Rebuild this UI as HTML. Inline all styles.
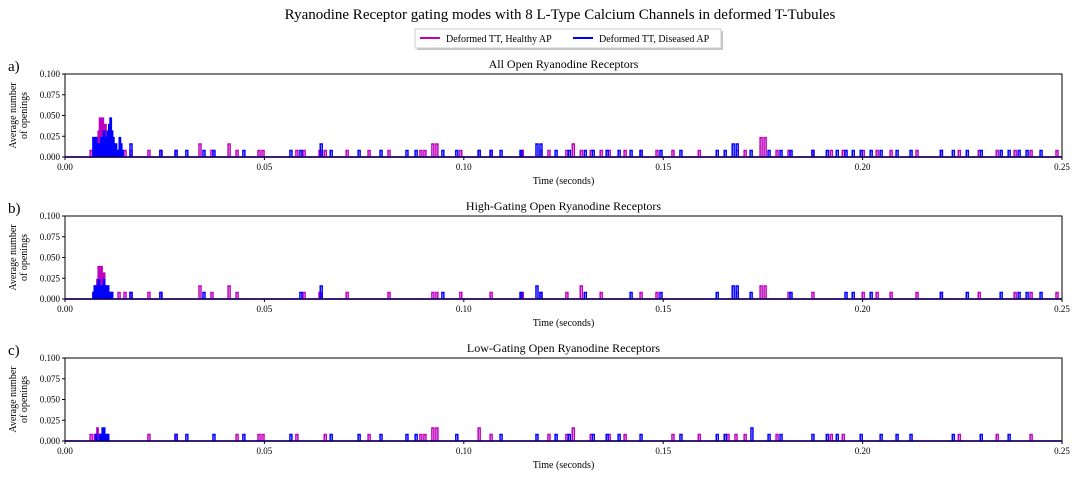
<!DOCTYPE html>
<html><head><meta charset="utf-8"><style>
body{margin:0;background:#fff;}
svg{display:block;font-family:"Liberation Serif",serif;}
</style></head><body>
<svg id="chart" width="1079" height="480" viewBox="0 0 1079 480">
<text x="560" y="19" text-anchor="middle" font-size="15">Ryanodine Receptor gating modes with 8 L-Type Calcium Channels in deformed T-Tubules</text>
<g>
<rect x="417" y="31" width="306" height="19" fill="#888" opacity="0.5"/>
<rect x="415" y="29" width="306" height="19" fill="#fff" stroke="#ccc"/>
<line x1="420" y1="38" x2="440" y2="38" stroke="#bf00bf" stroke-width="2"/>
<text x="446" y="42" font-size="10">Deformed TT, Healthy AP</text>
<line x1="573" y1="38" x2="593" y2="38" stroke="#0000ff" stroke-width="2"/>
<text x="599" y="42" font-size="10">Deformed TT, Diseased AP</text>
</g>
<g id="panels"></g>
</svg>
<script>
// times in ms, levels in units of openings (1 unit ≈ 0.0078)
const panelTitles = ["All Open Ryanodine Receptors","High-Gating Open Ryanodine Receptors","Low-Gating Open Ryanodine Receptors"];
const panelLetters = ["a)","b)","c)"];
const yTicks = [0, 0.025, 0.05, 0.075, 0.1];
const yTickLabels = ["0.000","0.025","0.050","0.075","0.100"];
const xTicks = [0, 0.05, 0.1, 0.15, 0.2, 0.25];
const xTickLabels = ["0.00","0.05","0.10","0.15","0.20","0.25"];
const unit = 0.0078;

const magBurstA = [1,2,3,2,4,6,5,6,4,5,3,2,3,1,0,2,1,0,1];
const bluBurstA = [3,1,3,0,2,1,3,2,4,3,2,4,5,6,4,3,1,2,1,0,3,2,1];
const magBurstB = [1,2,1,3,5,4,5,3,4,2,1,2,1,0,1];
const bluBurstB = [1,2,1,2,3,2,1,2,3,2,1,2,1,0,1];
const magBurstC = [0,1,0,2,0,1,0,0,1];
const bluBurstC = [0,0,1,0,0,1,1,2,2,1,0,1];

const magTimesA = [6.3,13.3,14.8,16.3,20.8,23.8,27.6,33.6,36.6,40.9,42.9,48.4,49.4,57.9,59.7,63.7,65,70.5,76,81,89,90,92,93,99,103.6,106.6,114.4,119.1,121.1,125.6,127.2,129.2,131.7,134.2,136.2,140.2,144.2,148.2,152.2,158.8,168.3,170.3,174.3,175.3,178.3,181.3,187.3,191.9,194.9,199.9,203.4,206.9,213.4,219.5,224,229,233.5,238,242,248.5];
const magLevA = [1,1,1,1,1,1,1,2,1,2,1,1,1,1,1,1,1,1,1,1,1,1,2,2,1,1,1,1,1,1,1,2,1,1,1,1,1,1,1,1,1,1,1,3,3,1,1,1,1,1,1,1,1,1,1,1,1,1,1,1,1];
const bluTimesA = [16.3,23.8,27.6,30.3,34.6,37.1,44.6,56.4,58.9,64,66.5,73.5,79,85.5,87.8,94.5,98,103.6,106.6,109.1,114.1,118.1,119.1,122.9,126.2,130.2,132.2,135.7,138.7,141.7,144.2,149.2,154.2,163.3,165.3,167.3,168.3,171.8,176.3,179.3,181.8,187.3,190.9,193.4,195.6,197.4,199.4,201.9,204.4,208.4,211.9,219.5,222.5,226,229.5,234.5,236.5,239,241,244.5];
const bluLevA = [2,1,1,1,1,1,1,1,1,2,1,1,1,1,1,1,1,1,1,1,1,2,2,1,1,1,1,1,1,1,1,1,1,1,1,2,2,1,1,1,1,1,1,1,1,1,1,1,1,1,1,1,1,1,1,1,1,1,1,1];

const magTimesB = [13.3,14.8,16.3,20.8,23.8,33.6,36.6,40.9,42.9,59.7,63.7,70.5,81,92,93,99,106.6,114.4,119.1,125.6,129.2,134.2,144.2,148.2,168.3,174.3,175.3,181.3,187.3,199.9,203.4,206.9,213.4,219.5,229,238,242,248.5];
const magLevB = [1,1,1,1,1,2,1,2,1,1,1,1,1,1,1,1,1,1,1,1,2,1,1,1,1,2,2,1,1,1,1,1,1,1,1,1,1,1];
const bluTimesB = [16.3,23.8,34.6,58.9,64,94.5,114.1,118.1,119.1,130.2,141.7,149.2,163.3,167.3,168.3,171.8,181.8,195.6,197.4,201.9,219.5,226,234.5,239,241,244.5];
const bluLevB = [1,1,1,1,2,1,1,2,1,1,1,1,1,2,2,1,1,1,1,1,1,1,1,1,1,1];

const magTimesC = [6.3,20.8,27.6,42.9,48.4,49.4,57.9,65,76,89,90,92,93,103.6,106.6,121.1,125.6,127.2,131.7,136.2,140.2,152.2,158.8,166,168,170.3,178.3,191.9,194.9,224,233.5,242];
const magLevC = [1,1,1,1,1,1,1,1,1,1,1,2,2,2,1,1,1,2,1,1,1,1,1,1,1,1,1,1,1,1,1,1];
const bluTimesC = [27.6,30.3,37.1,44.6,56.4,66.5,73.5,79,85.5,87.8,98,109.1,118.1,122.9,126.2,132.2,135.7,138.7,144.2,154.2,163.3,165.3,172,176.3,179.3,187.3,190.9,193.4,199.4,204.4,208.4,211.9,222.5,229.5,236.5];
const bluLevC = [1,1,1,1,1,1,1,1,1,1,1,1,1,1,1,1,1,1,1,1,1,1,2,1,1,1,1,1,1,1,1,1,1,1,1];

const panelData = [
 {mb:magBurstA,bb:bluBurstA,mt:magTimesA,ml:magLevA,bt:bluTimesA,bl:bluLevA},
 {mb:magBurstB,bb:bluBurstB,mt:magTimesB,ml:magLevB,bt:bluTimesB,bl:bluLevB},
 {mb:magBurstC,bb:bluBurstC,mt:magTimesC,ml:magLevC,bt:bluTimesC,bl:bluLevC}
];

const NS="http://www.w3.org/2000/svg";
const root=document.getElementById('panels');
function mk(tag,attrs,parent){const e=document.createElementNS(NS,tag);for(const k in attrs)e.setAttribute(k,attrs[k]);(parent||root).appendChild(e);return e;}
const X0=65,X1=1062,H=83;
const tops=[74,216,358];

panelData.forEach((pd,i)=>{
  const top=tops[i], bot=top+H;
  const xs=t=>X0+(t/0.25)*(X1-X0);
  const ys=v=>bot-(v/0.1)*H;
  const g=mk('g',{});
  
  
  const t1=mk('text',{x:(X0+X1)/2,y:top-6,'text-anchor':'middle','font-size':12},g);t1.textContent=panelTitles[i];
  
  
  const lt=mk('text',{x:8,y:top-3,'font-size':15},g);lt.textContent=panelLetters[i];
  
  
  const yl=mk('text',{transform:`translate(18,${top+H/2}) rotate(-90)`,'text-anchor':'middle','font-size':10},g);
  
  
  const s1=mk('tspan',{x:0,dy:-2},yl);s1.textContent='Average number';
  const s2=mk('tspan',{x:0,dy:11},yl);s2.textContent='of openings';
  yTicks.forEach((v,k)=>{mk('line',{x1:X0-3,x2:X0,y1:ys(v),y2:ys(v),stroke:'#000'},g);
    const t=mk('text',{x:X0-5,y:ys(v)+3,'text-anchor':'end','font-size':9},g);t.textContent=yTickLabels[k];
    
    });
  xTicks.forEach((v,k)=>{mk('line',{x1:xs(v),x2:xs(v),y1:bot,y2:bot+3,stroke:'#000'},g);
    const t=mk('text',{x:xs(v),y:bot+13,'text-anchor':'middle','font-size':9},g);t.textContent=xTickLabels[k];
    
    });
  const xl=mk('text',{x:(X0+X1)/2,y:bot+27,'text-anchor':'middle','font-size':10},g);xl.textContent='Time (seconds)';
  
  
  function series(burst,times,levs,color,name){
    const w=0.0005;let d=`M${xs(0)},${ys(0)}H${xs(0.25)}`;
    burst.forEach((l,k)=>{if(!l)return;const t=0.007+k*0.00033;d+=`M${xs(t)},${ys(0)}V${ys(l*unit)}H${xs(t+0.00033)}V${ys(0)}`;});
    times.forEach((tm,k)=>{const t=tm/1000;d+=`M${xs(t)},${ys(0)}V${ys(levs[k]*unit)}H${xs(t+w)}V${ys(0)}`;});
    const p=mk('path',{d:d,fill:'none',stroke:color,'stroke-width':1.5},g);
    
    
  }
  series(pd.mb,pd.mt,pd.ml,'#bf00bf','series-healthy-ap');
  series(pd.bb,pd.bt,pd.bl,'#0000ff','series-diseased-ap');
  mk('rect',{x:X0,y:top,width:X1-X0,height:H,fill:'none',stroke:'#000','stroke-width':1},g);
});
</script>
</body></html>
